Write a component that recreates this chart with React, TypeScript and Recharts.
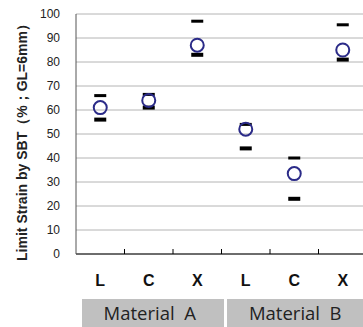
import * as React from "react";
import { ComposedChart, Line, XAxis, YAxis, CartesianGrid } from "recharts";

const categories = ["L", "C", "X", "L", "C", "X"];
const materials = ["Material  A", "Material  A", "Material  A", "Material  B", "Material  B", "Material  B"];
const meanValues = [61, 64, 87, 52, 33.5, 85];
const maxValues = [66, 66.5, 97, 54, 40, 95.5];
const minValues = [56, 61, 83, 44, 23, 81];
const yTicks = [0, 10, 20, 30, 40, 50, 60, 70, 80, 90, 100];

const data = categories.map((c, i) => ({
  cat: c,
  material: materials[i],
  mean: meanValues[i],
  hi: maxValues[i],
  lo: minValues[i],
}));

const CHART_W = 400;
const CHART_H = 327;
const LEFT = 76;
const RIGHT_MARGIN = 33;
const BAND = (CHART_W - LEFT - RIGHT_MARGIN) / categories.length;

const font = "'Liberation Sans', Arial, sans-serif";

function CategoryTick(props: any) {
  const { x, y, payload, index } = props;
  const start = x - BAND / 2;
  return (
    <g>
      {index > 0 && (
        <line x1={start} x2={start} y1={y} y2={y - 5} stroke="#000" strokeWidth={1} />
      )}
      <text
        x={x}
        y={y + 32}
        textAnchor="middle"
        fontFamily={font}
        fontWeight="bold"
        fontSize={16}
        fill="#111"
      >
        {payload.value}
      </text>
      {index % 3 === 0 && (
        <g>
          <rect
            x={start + (index === 0 ? 6 : 5.5)}
            y={y + 45}
            width={BAND * 3 - (index === 0 ? 3.5 : 3)}
            height={40}
            fill="#c0c0c0"
          />
          <text
            x={start + BAND * 1.5 + 1}
            y={y + 66}
            textAnchor="middle"
            fontFamily="'Open Sans', sans-serif"
            fontSize={18.5}
            fill="#222"
            style={{ whiteSpace: "pre" }}
          >
            {data[index].material}
          </text>
        </g>
      )}
    </g>
  );
}

const Dash = (thick: number) => (props: any) => {
  const { cx, cy } = props;
  if (cx == null || cy == null) return null;
  return <rect x={cx - 6} y={cy - thick / 2} width={12} height={thick} fill="#000" />;
};

const OpenCircle = (props: any) => {
  const { cx, cy } = props;
  if (cx == null || cy == null) return null;
  return <circle cx={cx} cy={cy} r={6.5} fill="none" stroke="#2b2b88" strokeWidth={2} />;
};

export default function App() {
  return (
    <div style={{ position: "absolute", left: 0, top: 0, width: 363, height: 327, overflow: "hidden", background: "#fff" }}>
      <ComposedChart
        width={CHART_W}
        height={CHART_H}
        data={data}
        margin={{ top: 14, right: RIGHT_MARGIN, left: 0, bottom: 0 }}
      >
        <CartesianGrid horizontal vertical={false} stroke="#b4b4b4" />
        <XAxis
          dataKey="cat"
          padding={{ left: BAND / 2, right: BAND / 2 }}
          height={73}
          tickLine={false}
          tickSize={0}
          tickMargin={0}
          axisLine={{ stroke: "#000" }}
          interval={0}
          tick={<CategoryTick />}
        />
        <YAxis
          width={LEFT}
          domain={[0, 100]}
          ticks={yTicks}
          interval={0}
          tickLine={false}
          tickMargin={10}
          axisLine={{ stroke: "#555" }}
          tick={{ fontFamily: font, fontSize: 12, fill: "#222" }}
          label={{
            content: () => (
              <text
                x={27}
                y={139}
                transform="rotate(-90 27 139)"
                textAnchor="middle"
                fontFamily={font}
                fontSize={14}
                fontWeight="bold"
                fill="#222"
              >
                Limit Strain by SBT（%；GL=6mm）
              </text>
            ),
          }}
        />
        <Line dataKey="hi" stroke="none" isAnimationActive={false} dot={Dash(3)} activeDot={false} />
        <Line dataKey="lo" stroke="none" isAnimationActive={false} dot={Dash(4)} activeDot={false} />
        <Line dataKey="mean" stroke="none" isAnimationActive={false} dot={OpenCircle} activeDot={false} />
      </ComposedChart>
    </div>
  );
}
